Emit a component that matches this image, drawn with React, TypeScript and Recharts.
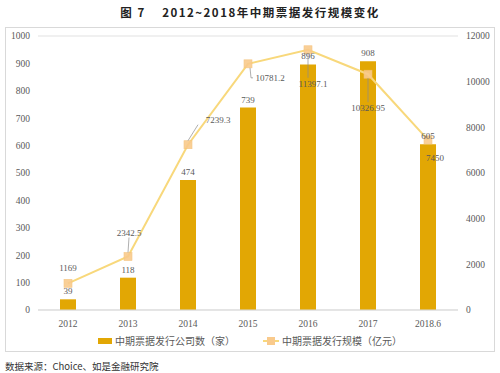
import { ComposedChart, Bar, Line, XAxis, YAxis, CartesianGrid, LabelList } from "recharts";

// categories & values
const years = ["2012", "2013", "2014", "2015", "2016", "2017", "2018.6"];
const companyCounts = [39, 118, 474, 739, 896, 908, 605];
const issueScale = [1169, 2342.5, 7239.3, 10781.2, 11397.1, 10326.95, 7450];
const leftTicks = [0, 100, 200, 300, 400, 500, 600, 700, 800, 900, 1000];
const rightTicks = [0, 2000, 4000, 6000, 8000, 10000, 12000];

const barName = "中期票据发行公司数（家）";
const lineName = "中期票据发行规模（亿元）";

const data = years.map((y, i) => ({ year: y, count: companyCounts[i], scale: issueScale[i] }));

// where each line label sits relative to its point [dx, dy, leader]
const lineLabelOffsets: [number, number, boolean][] = [
    [0, -15, false],
    [1, -24, true],
    [30, -25, true],
    [22, 14, true],
    [5, 34, true],
    [0, 34, true],
    [7, 18, false],
];

const BAR_COLOR = "#E2A704";
const LINE_COLOR = "#F8D87B";
const MARK_COLOR = "#F9CA8C";
const TEXT_COLOR = "#595959";
const SERIF = "'Liberation Serif', 'Times New Roman', serif";
const CJK = "'Noto Sans CJK SC', sans-serif";

function SquareDot(props: any) {
    const { cx, cy, index } = props;
    if (cx == null || cy == null) return null;
    return <rect key={`dot-${index}`} x={cx - 4} y={cy - 4} width={8} height={8} fill={MARK_COLOR} stroke="#F5C27A" strokeWidth={0.6} opacity={0.9} />;
}

function LineLabel(props: any) {
    const { x, y, index, value } = props;
    if (x == null || y == null) return null;
    const [dx, dy, leader] = lineLabelOffsets[index] || [0, -12, false];
    const lx = x + dx;
    const ly = y + dy;
    let path = "";
    if (leader) {
        if (dy < 0) path = `M${x},${y - 4} L${lx - (dx > 10 ? 20 : 0)},${ly + 5}`;
        else if (dx > 10) path = `M${x + 2},${y + 4} L${x + 3},${ly} L${lx - 17},${ly}`;
        else path = `M${x},${y + 4} L${x},${ly - 6}`;
    }
    return (
        <g>
            {leader && <path d={path} stroke="#8c8c8c" strokeWidth={0.7} fill="none" />}
            <text x={lx} y={ly} textAnchor="middle" dominantBaseline="central" fontSize={9} fontFamily={SERIF} fill={TEXT_COLOR}>
                {typeof value === "number" ? String(value) : value}
            </text>
        </g>
    );
}

export default function App() {
    return (
        <div style={{ position: "absolute", left: 0, top: 0, width: 500, height: 373, background: "#fff", fontFamily: SERIF }}>
            <div style={{ position: "absolute", top: 4, left: 0, width: 500, textAlign: "center", fontFamily: CJK, fontWeight: 700, fontSize: 11.5, letterSpacing: 1.5, color: "#222", whiteSpace: "pre" }}>
                {"图 7    2012~2018年中期票据发行规模变化"}
            </div>

            <div style={{ position: "absolute", left: 5, top: 27, width: 490, height: 325, border: "1px solid #d9d9d9", boxSizing: "border-box" }} />

            <div style={{ position: "absolute", left: 5, top: 27 }}>
                <ComposedChart width={490} height={325} data={data} margin={{ top: 9, right: 0, left: 0, bottom: 22 }} barCategoryGap={0}>
                    <CartesianGrid vertical={false} stroke="#d9d9d9" strokeWidth={0.8} />
                    <XAxis
                        dataKey="year"
                        height={20}
                        axisLine={{ stroke: "#d9d9d9" }}
                        tickLine={false}
                        tick={{ fontSize: 9.5, fill: TEXT_COLOR, fontFamily: SERIF }}
                        tickMargin={4}
                    />
                    <YAxis
                        yAxisId="left"
                        width={33}
                        domain={[0, 1000]}
                        ticks={leftTicks}
                        axisLine={false}
                        tickLine={false}
                        tick={{ fontSize: 9.5, fill: TEXT_COLOR, fontFamily: SERIF }}
                        interval={0}
                    />
                    <YAxis
                        yAxisId="right"
                        orientation="right"
                        width={37}
                        domain={[0, 12000]}
                        ticks={rightTicks}
                        axisLine={false}
                        tickLine={false}
                        tick={{ fontSize: 9.5, fill: TEXT_COLOR, fontFamily: SERIF, textAnchor: "start" }}
                        interval={0}
                    />
                    <Bar yAxisId="left" dataKey="count" name={barName} fill={BAR_COLOR} barSize={16} isAnimationActive={false}>
                        <LabelList dataKey="count" position="top" offset={5} fontSize={9} fill={TEXT_COLOR} fontFamily={SERIF} />
                    </Bar>
                    <Line
                        yAxisId="right"
                        dataKey="scale"
                        name={lineName}
                        stroke={LINE_COLOR}
                        strokeWidth={2}
                        type="linear"
                        dot={SquareDot}
                        activeDot={false}
                        isAnimationActive={false}
                    >
                        <LabelList dataKey="scale" content={LineLabel} />
                    </Line>
                </ComposedChart>
            </div>

            {/* legend */}
            <div style={{ position: "absolute", top: 333, left: 0, width: 500, display: "flex", justifyContent: "center", alignItems: "center", fontFamily: CJK, fontSize: 10, color: TEXT_COLOR }}>
                <svg width={14} height={8} style={{ marginRight: 3 }}>
                    <rect x={0} y={1} width={14} height={6} fill={BAR_COLOR} />
                </svg>
                <span style={{ marginRight: 28 }}>{barName}</span>
                <svg width={16} height={10} style={{ marginRight: 3 }}>
                    <line x1={0} y1={5} x2={16} y2={5} stroke={LINE_COLOR} strokeWidth={2} />
                    <rect x={4} y={1} width={8} height={8} fill={MARK_COLOR} />
                </svg>
                <span>{lineName}</span>
            </div>

            <div style={{ position: "absolute", top: 359, left: 5, fontFamily: CJK, fontSize: 9.5, color: "#333" }}>
                数据来源：Choice、如是金融研究院
            </div>
        </div>
    );
}
